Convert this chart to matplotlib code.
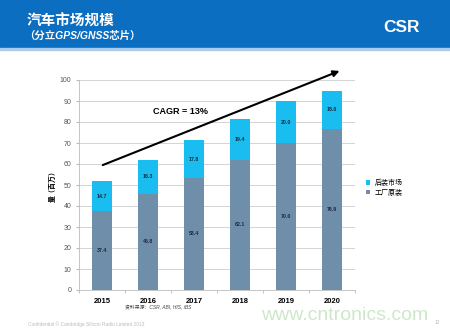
import matplotlib
matplotlib.use('Agg')
import matplotlib.pyplot as plt
from matplotlib.patches import Rectangle

plt.rcParams['font.family'] = ['Liberation Sans', 'Noto Sans CJK SC', 'DejaVu Sans']

# data
years = ['2015', '2016', '2017', '2018', '2019', '2020']
factory = [37.4, 45.8, 53.4, 62.1, 70.0, 76.9]     # 工厂原装
aftermarket = [14.7, 16.3, 17.8, 19.4, 20.0, 18.0]  # 后装市场
yticks = list(range(0, 101, 10))

c_after = '#19bdf0'
c_fact = '#6f8ea9'

fig = plt.figure(figsize=(4.5, 3.3), dpi=100)

# header band
fig.patches.append(Rectangle((0, 1 - 48/330), 1, 48/330, transform=fig.transFigure,
                             color='#0b6ec0', zorder=0))
fig.patches.append(Rectangle((0, 1 - 50/330), 1, 2/330, transform=fig.transFigure,
                             color='#a9cdea', zorder=0))
fig.text(27/450, 1 - 22/330, '汽车市场规模', color='white', fontsize=10.5,
         fontweight='bold', va='center', ha='left')
fig.text(24/450, 1 - 36/330, '（分立GPS/GNSS芯片）', color='white', fontsize=7.5,
         fontweight='bold', style='italic', va='center', ha='left')
fig.text(402/450, 1 - 28/330, 'CSR', color='white', fontsize=12.5,
         fontweight='bold', va='center', ha='center')

ax = fig.add_axes([79/450, 40/330, 276/450, 210/330])
x = range(len(years))
ax.bar(x, factory, width=0.42, color=c_fact, label='工厂原装', zorder=3)
ax.bar(x, aftermarket, width=0.42, bottom=factory, color=c_after, label='后装市场', zorder=3)

for i in x:
    ax.text(i, factory[i] / 2, '%.1f' % factory[i], ha='center', va='center',
            fontsize=3.8, fontweight='bold', color='#1a2a40', zorder=4)
    ax.text(i, factory[i] + aftermarket[i] / 2, '%.1f' % aftermarket[i], ha='center',
            va='center', fontsize=3.8, fontweight='bold', color='#1a2a40', zorder=4)

ax.set_xlim(-0.5, 5.5)
ax.set_ylim(0, 100)
ax.set_yticks(yticks)
ax.set_xticks(list(x))
ax.set_xticklabels(years, fontsize=5.5, fontweight='bold')
ax.set_xticks([i + 0.5 for i in range(-1, 6)], minor=True)
ax.tick_params(axis='x', which='major', length=0, pad=6)
ax.tick_params(axis='x', which='minor', length=2, color='#bbbbbb')
ax.tick_params(axis='y', labelsize=5, labelcolor='#555555', length=2, color='#bbbbbb')
ax.grid(axis='y', color='#cccccc', linewidth=0.6, zorder=0)
for s in ['top', 'right']:
    ax.spines[s].set_visible(False)
for s in ['left', 'bottom']:
    ax.spines[s].set_color('#bbbbbb')
    ax.spines[s].set_linewidth(0.6)
ax.set_ylabel('量（百万）', fontsize=5, fontweight='bold', labelpad=2)

# growth arrow and CAGR
ax.annotate('', xy=(5.22, 104.8), xytext=(-0.04, 59),
            arrowprops=dict(arrowstyle='-|>', color='black', lw=1.5, mutation_scale=9),
            annotation_clip=False, zorder=5)
ax.text(1.7, 85.2, 'CAGR = 13%', fontsize=6.5, fontweight='bold', ha='center', va='center')

h, l = ax.get_legend_handles_labels()
fig.legend(h[::-1], l[::-1], loc='center left', bbox_to_anchor=(360/450, 1 - 188/330),
           frameon=False, fontsize=5, handlelength=0.6, handleheight=0.6,
           handletextpad=0.6, labelspacing=0.4)

fig.text(125/450, 1 - 308/330, '资料来源：CSR, ABI, HIS, iBS', fontsize=3.5,
         style='italic', color='#444444', ha='left', va='center')
fig.text(28/450, 1 - 324/330, 'Confidential © Cambridge Silicon Radio Limited 2013',
         fontsize=3.5, color='#bbbbbb', ha='left', va='center')
fig.text(437/450, 1 - 323/330, '12', fontsize=3.5, color='#bbbbbb', ha='center', va='center')
fig.text(345/450, 1 - 315/330, 'www.cntronics.com', fontsize=14, color='#c2e2bd',
         alpha=0.8, ha='center', va='center')

fig.savefig('out.png', dpi=100)
